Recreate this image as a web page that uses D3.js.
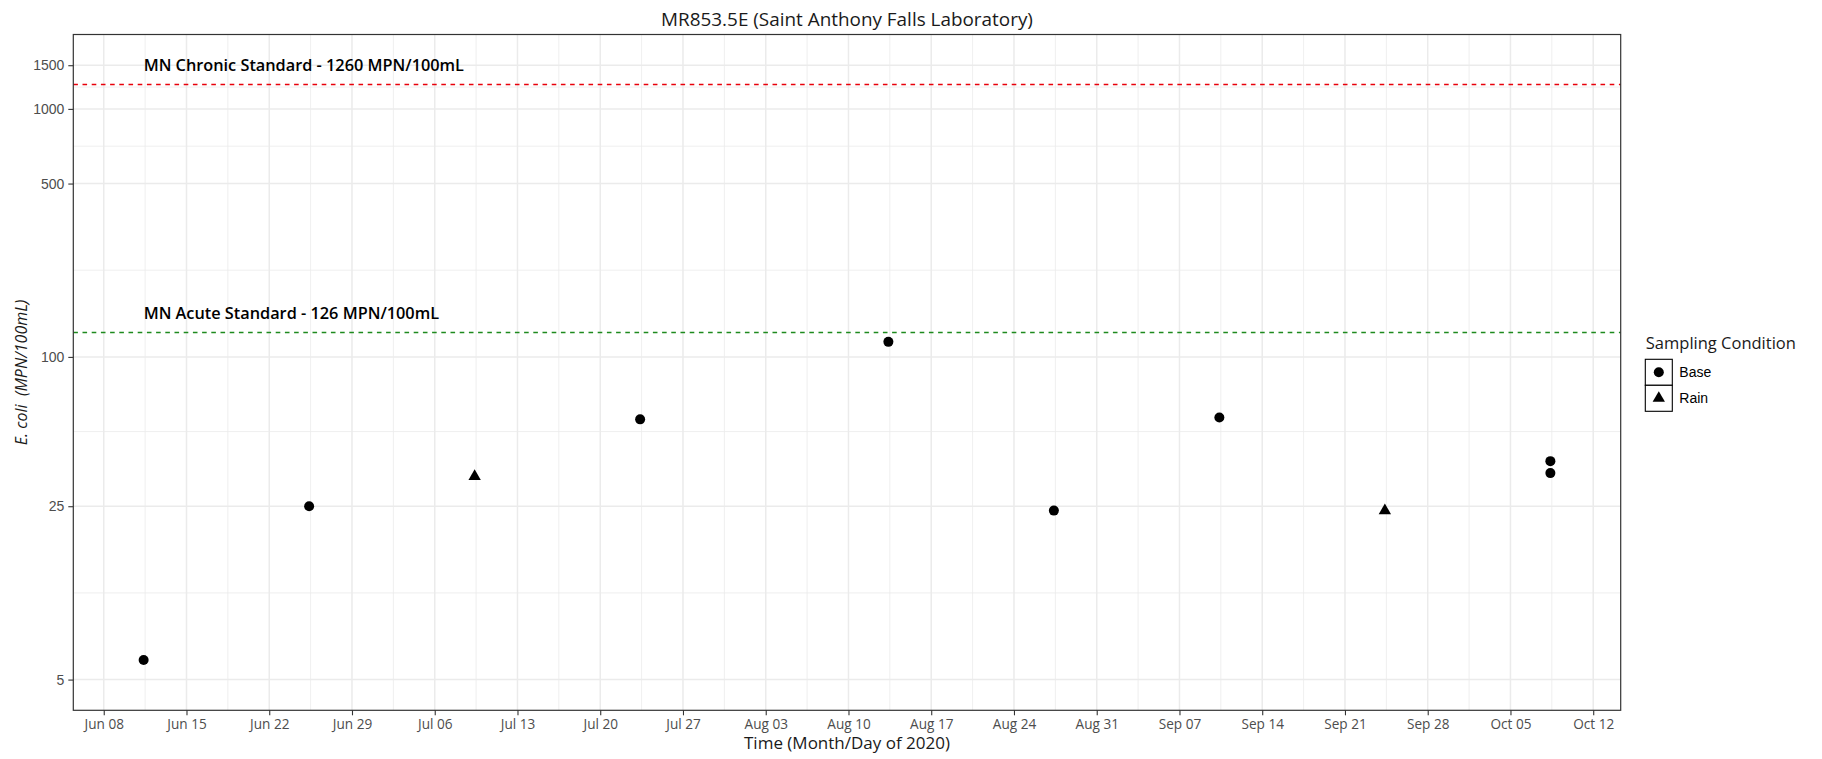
<!DOCTYPE html>
<html>
<head>
<meta charset="utf-8">
<script src="https://cdn.jsdelivr.net/npm/d3@7"></script>
<style>
  body { margin: 0; background: #fff; }
  svg { display: block; }
</style>
</head>
<body>
<div id="chart"></div>
<script>
// ---- data ----
var sampleDates = ["2020-06-11 09:00", "2020-06-25 09:00", "2020-07-09 09:00", "2020-07-23 09:00",
                   "2020-08-13 09:00", "2020-08-27 09:00", "2020-09-10 09:00", "2020-09-24 09:00",
                   "2020-10-08 09:00", "2020-10-08 09:00"];
var ecoliValues = [6, 25, 33, 56, 115, 24, 57, 24, 38, 34];
var conditions  = ["Base", "Base", "Rain", "Base", "Base", "Base", "Base", "Rain", "Base", "Base"];

var conditionLevels = ["Base", "Rain"];
var yTickValues = [5, 25, 100, 500, 1000, 1500];
var yLimits = [5, 1500];

var standardValues = [1260, 126];
var standardLabels = ["MN Chronic Standard - 1260 MPN/100mL", "MN Acute Standard - 126 MPN/100mL"];
var standardLabelAt = [1500, 150];

var chartTitle = "MR853.5E (Saint Anthony Falls Laboratory)";
var xTitle = "Time (Month/Day of 2020)";
var legendTitle = "Sampling Condition";

// ---- layout ----
var W = 1822, H = 759;
var margin = {left: 73.3, top: 34.5, right: W - 1620.7, bottom: H - 710.3};
var pw = W - margin.left - margin.right,
    ph = H - margin.top - margin.bottom;

var standardColors = ["#e8000b", "#1e8a1e"];
var gridCol = "#ebebeb";

var parseTime = d3.timeParse("%Y-%m-%d %H:%M");
var data = sampleDates.map(function(d, i){
	return {date: parseTime(d), value: ecoliValues[i], cond: conditions[i]};
});

var svg = d3.select("#chart").append("svg")
	.attr("width", W)
	.attr("height", H);

// x scale, ggplot style 5% expansion
var ext = d3.extent(data, function(d){ return d.date; });
var pad = (ext[1] - ext[0]) * 0.05;
var x = d3.scaleTime()
	.domain([new Date(+ext[0] - pad), new Date(+ext[1] + pad)])
	.range([0, pw]);

// y scale, log10 with 5% expansion in log space
var lo = Math.log10(yLimits[0]), hi = Math.log10(yLimits[1]);
var ypad = (hi - lo) * 0.05;
var y = d3.scaleLog()
	.domain([Math.pow(10, lo - ypad), Math.pow(10, hi + ypad)])
	.range([ph, 0]);

var g = svg.append("g")
	.attr("transform", "translate(" + margin.left + "," + margin.top + ")");

// weekly breaks (Mondays)
var xMajor = d3.timeMonday.range(new Date(2020, 5, 8), new Date(2020, 9, 13));
var xMinor = [];
for (var i = 0; i < xMajor.length - 1; i++) {
	xMinor.push(new Date((+xMajor[i] + +xMajor[i + 1]) / 2));
}
var yMinor = [];
for (var j = 0; j < yTickValues.length - 1; j++) {
	yMinor.push(Math.sqrt(yTickValues[j] * yTickValues[j + 1]));
}

// grid
var grid = g.append("g");
grid.selectAll(".xminor").data(xMinor).enter().append("line")
	.attr("x1", function(d){ return x(d); }).attr("x2", function(d){ return x(d); })
	.attr("y1", 0).attr("y2", ph)
	.attr("stroke", gridCol).attr("stroke-width", 0.8);
grid.selectAll(".yminor").data(yMinor).enter().append("line")
	.attr("y1", function(d){ return y(d); }).attr("y2", function(d){ return y(d); })
	.attr("x1", 0).attr("x2", pw)
	.attr("stroke", gridCol).attr("stroke-width", 0.8);
grid.selectAll(".xmajor").data(xMajor).enter().append("line")
	.attr("x1", function(d){ return x(d); }).attr("x2", function(d){ return x(d); })
	.attr("y1", 0).attr("y2", ph)
	.attr("stroke", gridCol).attr("stroke-width", 1.5);
grid.selectAll(".ymajor").data(yTickValues).enter().append("line")
	.attr("y1", function(d){ return y(d); }).attr("y2", function(d){ return y(d); })
	.attr("x1", 0).attr("x2", pw)
	.attr("stroke", gridCol).attr("stroke-width", 1.5);

// standards (snapped to the pixel grid so the dashes stay crisp)
function snap(v){ return Math.round(v + margin.top) - margin.top + 0.5; }
g.selectAll(".std").data(standardValues).enter().append("line")
	.attr("x1", 0).attr("x2", pw)
	.attr("y1", function(d){ return snap(y(d)); }).attr("y2", function(d){ return snap(y(d)); })
	.attr("stroke", function(d, i){ return standardColors[i]; })
	.attr("stroke-width", 1.3)
	.attr("stroke-dasharray", "4.6,4.6");

g.selectAll(".stdlabel").data(standardLabels).enter().append("text")
	.attr("x", x(data[0].date))
	.attr("y", function(d, i){ return y(standardLabelAt[i]); })
	.attr("dy", "0.36em")
	.style("font-family", "'Open Sans', sans-serif")
	.style("font-weight", 600)
	.style("font-size", "16.3px")
	.attr("fill", "#000")
	.text(function(d){ return d; });

// points
var circleSym = d3.symbol().type(d3.symbolCircle).size(Math.PI * 25);
var triSym = d3.symbol().type(d3.symbolTriangle).size(66);
g.selectAll(".pt").data(data).enter().append("path")
	.attr("transform", function(d){ return "translate(" + x(d.date) + "," + y(d.value) + ")"; })
	.attr("d", function(d){ return d.cond === "Rain" ? triSym() : circleSym(); })
	.attr("fill", "#000");

// panel border
g.append("rect")
	.attr("width", pw).attr("height", ph)
	.attr("fill", "none").attr("stroke", "#333").attr("stroke-width", 1.2);

// axes
var xAxis = g.append("g")
	.attr("transform", "translate(0," + ph + ")")
	.call(d3.axisBottom(x).tickValues(xMajor).tickFormat(d3.timeFormat("%b %d")).tickSize(5).tickPadding(4));
xAxis.select(".domain").remove();
xAxis.selectAll("line").attr("stroke", "#333").attr("stroke-width", 1.1);
xAxis.selectAll("text")
	.style("font-family", "'Open Sans', sans-serif")
	.style("font-size", "13.6px")
	.attr("fill", "#4d4d4d");

var yAxis = g.append("g")
	.call(d3.axisLeft(y).tickValues(yTickValues).tickFormat(d3.format("d")).tickSize(5).tickPadding(4));
yAxis.select(".domain").remove();
yAxis.selectAll("line").attr("stroke", "#333").attr("stroke-width", 1.1);
yAxis.selectAll("text")
	.style("font-family", "'Liberation Sans', Arial, sans-serif")
	.style("font-size", "14px")
	.attr("fill", "#4d4d4d");

// titles
svg.append("text")
	.attr("x", margin.left + pw / 2).attr("y", 26)
	.attr("text-anchor", "middle")
	.style("font-family", "'Open Sans', sans-serif")
	.style("font-size", "18.9px")
	.attr("fill", "#1a1a1a")
	.text(chartTitle);

svg.append("text")
	.attr("x", margin.left + pw / 2).attr("y", 749)
	.attr("text-anchor", "middle")
	.style("font-family", "'Open Sans', sans-serif")
	.style("font-size", "17px")
	.attr("fill", "#1a1a1a")
	.text(xTitle);

var yt = svg.append("text")
	.attr("transform", "translate(27," + (margin.top + ph / 2) + ") rotate(-90)")
	.attr("text-anchor", "middle")
	.style("font-family", "'Open Sans', sans-serif")
	.style("font-size", "16px")
	.style("font-style", "italic")
	.attr("fill", "#1a1a1a");
yt.append("tspan").text("E. coli");
yt.append("tspan").attr("xml:space", "preserve").text("  (MPN/100mL)");

// legend
var lg = svg.append("g").attr("transform", "translate(1645.3,0)");
lg.append("text")
	.attr("x", 0.5).attr("y", 348.5)
	.style("font-family", "'Open Sans', sans-serif")
	.style("font-size", "16.5px")
	.attr("fill", "#1a1a1a")
	.text(legendTitle);

var keyW = 27, keyH = 26, keyTop = 359.3;
var keys = lg.selectAll(".key").data(conditionLevels).enter().append("g")
	.attr("transform", function(d, i){ return "translate(0," + (keyTop + i * keyH) + ")"; });
keys.append("rect")
	.attr("width", keyW).attr("height", keyH)
	.attr("fill", "#fff").attr("stroke", "#000").attr("stroke-width", 1.1);
keys.append("path")
	.attr("transform", "translate(" + keyW / 2 + "," + keyH / 2 + ")")
	.attr("d", function(d){ return d === "Rain" ? triSym() : circleSym(); })
	.attr("fill", "#000");
keys.append("text")
	.attr("x", 34).attr("y", keyH / 2).attr("dy", "0.36em")
	.style("font-family", "'Liberation Sans', Arial, sans-serif")
	.style("font-size", "14px")
	.attr("fill", "#000")
	.text(function(d){ return d; });
</script>
</body>
</html>
